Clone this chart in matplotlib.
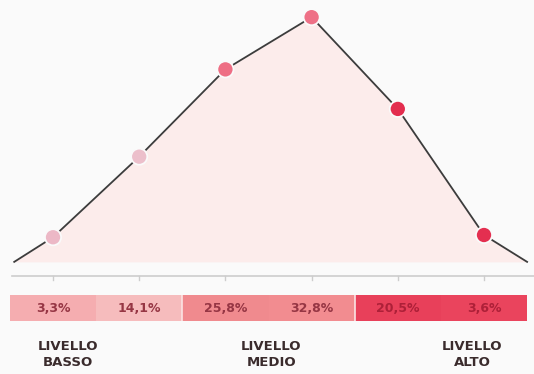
import matplotlib.pyplot as plt

# distribuzione per livello
livelli = ["LIVELLO\nBASSO", "LIVELLO\nMEDIO", "LIVELLO\nALTO"]
quote = [3.3, 14.1, 25.8, 32.8, 20.5, 3.6]
gruppo = [0, 0, 1, 1, 2, 2]

punto_colori = ["#ecb8c6", "#ecbfcb", "#ee6e84", "#ee7086", "#e32d4e", "#e42f50"]
cella_colori = ["#f5adb0", "#f6bcbd", "#f08a8e", "#f28c90", "#e8405a", "#ea445d"]
testo_colori = ["#963644", "#963644", "#ad2038"]

SFONDO = "#fafafa"

fig = plt.figure(figsize=(5.34, 3.74), dpi=100, facecolor=SFONDO)
xs = list(range(len(quote)))
xlim = (-0.615, 5.58)

# curva principale con area riempita
ax = fig.add_axes([0, (374 - 285) / 374, 1, 285 / 374])
ax.set_facecolor(SFONDO)
x_linea = [-0.45] + xs + [5.5]
y_linea = [0] + quote + [0]
ax.fill_between(x_linea, y_linea, 0, color="#fceceb", lw=0, zorder=1)
ax.plot(x_linea, y_linea, color="#3c3c3c", lw=1.3, zorder=2)
ax.scatter(xs, quote, s=135, c=punto_colori, edgecolors=SFONDO,
           linewidths=1.3, zorder=3)

# linea di base con tacche
ax.plot([-0.47, xlim[1]], [-1.87, -1.87], color="#cdcdcd", lw=1.2, zorder=2)
for x in xs:
    ax.plot([x, x], [-1.87, -2.45], color="#cdcdcd", lw=1.0, zorder=2)

ax.set_xlim(*xlim)
ax.set_ylim(-3.1, 35.1)
ax.axis("off")

# barra delle percentuali
axb = fig.add_axes([0, (374 - 321) / 374, 1, 26 / 374])
axb.set_facecolor("none")
axb.bar(xs, [1] * len(xs), width=1.0, color=cella_colori, lw=0)
for b in (1.5, 3.5):
    axb.axvline(b, color="#fbe3e3", lw=1.2)
for x, q, g in zip(xs, quote, gruppo):
    etichetta = f"{q:.1f}".replace(".", ",") + "%"
    axb.text(x, 0.5, etichetta, ha="center", va="center", fontsize=9,
             fontweight="bold", color=testo_colori[g])

for x, nome in zip([0.17, 2.53, 4.86], livelli):
    axb.text(x, -0.75, nome, ha="center", va="top", fontsize=9.5,
             fontweight="bold", color="#3a2b2c", linespacing=1.25,
             multialignment="center", clip_on=False)

axb.set_xlim(*xlim)
axb.set_ylim(0, 1)
axb.axis("off")

fig.savefig("out.png", dpi=100, facecolor=SFONDO)
